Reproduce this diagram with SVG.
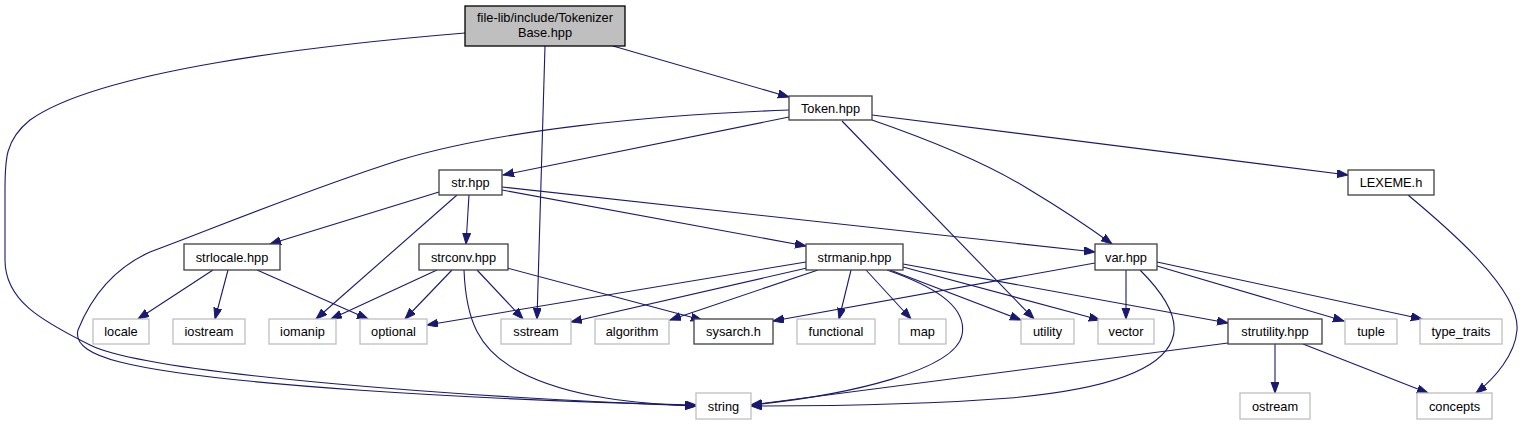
<svg xmlns="http://www.w3.org/2000/svg" width="1524" height="425" viewBox="0 0 1524 425">
<style>
.n rect{fill:#ffffff;stroke:#404040;stroke-width:1.3}
.x rect{fill:#ffffff;stroke:#bfbfbf;stroke-width:1.3}
.m rect{fill:#bfbfbf;stroke:#000000;stroke-width:1.3}
text{font-family:"Liberation Sans",Arial,sans-serif;font-size:12.8px;fill:#000000;text-anchor:middle}
.e path{fill:none;stroke:#191970;stroke-width:1.1;marker-end:url(#arr)}
</style>
<defs>
<marker id="arr" markerUnits="userSpaceOnUse" markerWidth="12" markerHeight="9" refX="11" refY="4" orient="auto">
<path d="M0,0 L11,4 L0,8 z" fill="#191970" stroke="#191970" stroke-width="1"/>
</marker>
</defs>
<rect width="1524" height="425" fill="#ffffff"/>
<g id="edges" class="e">
<path d="M465,33 C320,45 100,70 30,120 C5,140 5,160 5,190 L5,260 C5,300 40,320 90,345 C150,375 480,398 696,406"/>
<path d="M789,110 C650,115 500,130 400,160 C300,192 210,230 150,252 C110,270 90,300 78,330 C74,345 92,355 120,362 C210,385 480,400 696,405"/>
<path d="M545,46 L537,319"/>
<path d="M613,46 L789,97"/>
<path d="M789,117 L503,175"/>
<path d="M842,121 L1034,319"/>
<path d="M872,120 C930,140 990,165 1030,190 C1060,208 1090,228 1112,244"/>
<path d="M872,115 L1348,175"/>
<path d="M1408,195 C1450,230 1520,290 1517,330 C1515,355 1495,378 1476,393"/>
<path d="M439,192 L270,244"/>
<path d="M457,195 L316,319"/>
<path d="M469,195 L466,244"/>
<path d="M502,190 L806,246"/>
<path d="M502,187 L1095,252"/>
<path d="M213,270 L138,319"/>
<path d="M228,270 L215,319"/>
<path d="M257,270 L368,319"/>
<path d="M437,270 L331,319"/>
<path d="M452,270 L405,319"/>
<path d="M477,270 L523,319"/>
<path d="M507,268 L702,320"/>
<path d="M464,270 C466,320 478,350 520,372 C570,398 640,404 696,406"/>
<path d="M806,262 L427,325"/>
<path d="M807,268 L571,322"/>
<path d="M818,270 L670,320"/>
<path d="M851,270 L839,319"/>
<path d="M866,270 L911,319"/>
<path d="M887,270 C930,285 968,305 962,335 C955,370 850,395 751,405"/>
<path d="M890,270 L1021,320"/>
<path d="M903,267 L1100,320"/>
<path d="M903,264 L1228,323"/>
<path d="M1095,263 L773,321"/>
<path d="M1126,270 L1126,319"/>
<path d="M1140,270 C1165,295 1180,320 1172,340 C1160,372 1100,390 1010,398 C920,405 830,406 751,406"/>
<path d="M1157,266 L1344,321"/>
<path d="M1157,262 L1422,319"/>
<path d="M1228,343 L751,405"/>
<path d="M1275,344 L1275,393"/>
<path d="M1303,344 L1428,393"/>
</g>
<g id="n_main" class="m"><rect x="465" y="6" width="160" height="40"/><text x="545" y="22">file-lib/include/Tokenizer</text><text x="545" y="37">Base.hpp</text></g>
<g id="n_token" class="n"><rect x="789" y="96" width="83" height="24"/><text x="830.5" y="112.5">Token.hpp</text></g>
<g id="n_lexeme" class="n"><rect x="1348" y="170" width="86" height="25"/><text x="1391" y="187">LEXEME.h</text></g>
<g id="n_str" class="n"><rect x="439" y="170" width="63" height="25"/><text x="470.5" y="187">str.hpp</text></g>
<g id="n_strlocale" class="n"><rect x="184" y="244" width="96" height="26"/><text x="232" y="261.5">strlocale.hpp</text></g>
<g id="n_strconv" class="n"><rect x="419" y="244" width="89" height="26"/><text x="463.5" y="261.5">strconv.hpp</text></g>
<g id="n_strmanip" class="n"><rect x="806" y="244" width="97" height="26"/><text x="854.5" y="261.5">strmanip.hpp</text></g>
<g id="n_var" class="n"><rect x="1095" y="244" width="62" height="26"/><text x="1126" y="261.5">var.hpp</text></g>
<g id="n_locale" class="x"><rect x="93" y="319" width="56" height="25"/><text x="121" y="336">locale</text></g>
<g id="n_iostream" class="x"><rect x="173" y="319" width="72" height="25"/><text x="209" y="336">iostream</text></g>
<g id="n_iomanip" class="x"><rect x="269" y="319" width="67" height="25"/><text x="302.5" y="336">iomanip</text></g>
<g id="n_optional" class="x"><rect x="360" y="319" width="67" height="25"/><text x="393.5" y="336">optional</text></g>
<g id="n_sstream" class="x"><rect x="501" y="319" width="70" height="25"/><text x="536" y="336">sstream</text></g>
<g id="n_algorithm" class="x"><rect x="595" y="319" width="74" height="25"/><text x="632" y="336">algorithm</text></g>
<g id="n_sysarch" class="n"><rect x="694" y="319" width="79" height="25"/><text x="733.5" y="336">sysarch.h</text></g>
<g id="n_functional" class="x"><rect x="797" y="319" width="78" height="25"/><text x="836" y="336">functional</text></g>
<g id="n_map" class="x"><rect x="899" y="319" width="47" height="25"/><text x="922.5" y="336">map</text></g>
<g id="n_utility" class="x"><rect x="1021" y="319" width="53" height="25"/><text x="1047.5" y="336">utility</text></g>
<g id="n_vector" class="x"><rect x="1098" y="319" width="56" height="25"/><text x="1126" y="336">vector</text></g>
<g id="n_strutility" class="n"><rect x="1228" y="319" width="94" height="25"/><text x="1275" y="336">strutility.hpp</text></g>
<g id="n_tuple" class="x"><rect x="1345" y="319" width="52" height="25"/><text x="1371" y="336">tuple</text></g>
<g id="n_type_traits" class="x"><rect x="1420" y="319" width="82" height="25"/><text x="1461" y="336">type_traits</text></g>
<g id="n_string" class="x"><rect x="696" y="393" width="55" height="26"/><text x="723.5" y="410.5">string</text></g>
<g id="n_ostream" class="x"><rect x="1240" y="393" width="70" height="26"/><text x="1275" y="410.5">ostream</text></g>
<g id="n_concepts" class="x"><rect x="1417" y="393" width="75" height="26"/><text x="1454.5" y="410.5">concepts</text></g>
</svg>
